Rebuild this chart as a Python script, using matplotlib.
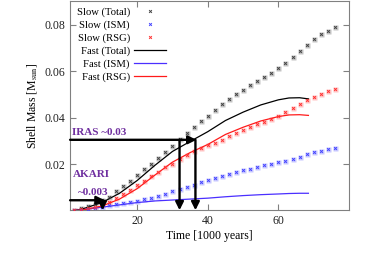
import numpy as np
import matplotlib
matplotlib.use("Agg")
import matplotlib.pyplot as plt

plt.rcParams['font.family'] = ['Liberation Serif', 'DejaVu Serif']
plt.rcParams['mathtext.fontset'] = 'stix'

# slow wind model, every 2 kyr
t_slow = np.arange(2, 78, 2)
slow_total = [0.0005, 0.0010, 0.0020, 0.0030, 0.0045, 0.0061, 0.0086, 0.0108, 0.0129, 0.0153,
              0.0178, 0.0203, 0.0227, 0.0252, 0.0277, 0.0308, 0.0333, 0.0359, 0.0384, 0.0409,
              0.0433, 0.0458, 0.0482, 0.0502, 0.0519, 0.0540, 0.0557, 0.0576, 0.0593, 0.0613,
              0.0634, 0.0661, 0.0688, 0.0714, 0.0737, 0.0759, 0.0774, 0.0790]
slow_ism = [0.0002, 0.0005, 0.0009, 0.0013, 0.0018, 0.0024, 0.0028, 0.0033, 0.0037, 0.0042,
            0.0050, 0.0055, 0.0062, 0.0072, 0.0084, 0.0092, 0.0101, 0.0111, 0.0122, 0.0130,
            0.0140, 0.0150, 0.0160, 0.0168, 0.0174, 0.0180, 0.0187, 0.0197, 0.0203, 0.0208,
            0.0214, 0.0223, 0.0233, 0.0243, 0.0251, 0.0259, 0.0265, 0.0270]
slow_rsg = [0.0003, 0.0006, 0.0011, 0.0018, 0.0028, 0.0038, 0.0055, 0.0073, 0.0091, 0.0110,
            0.0129, 0.0149, 0.0168, 0.0186, 0.0203, 0.0222, 0.0240, 0.0256, 0.0270, 0.0281,
            0.0292, 0.0305, 0.0322, 0.0336, 0.0348, 0.0361, 0.0372, 0.0383, 0.0394, 0.0408,
            0.0425, 0.0441, 0.0458, 0.0475, 0.0490, 0.0503, 0.0513, 0.0522]

# fast wind model
t_fast = [2, 5, 10, 15, 20, 25, 30, 35, 40, 45, 50, 55, 60, 63, 66, 68.5]
fast_total = [0.0, 0.0010, 0.0035, 0.0075, 0.0130, 0.0195, 0.0255, 0.0298, 0.0340, 0.0388,
              0.0424, 0.0455, 0.0477, 0.0485, 0.0486, 0.0481]
fast_ism = [0.0, 0.0005, 0.0015, 0.0025, 0.0035, 0.0042, 0.0046, 0.0050, 0.0054, 0.0060,
            0.0065, 0.0069, 0.0072, 0.0074, 0.0075, 0.0075]
fast_rsg = [0.0, 0.0005, 0.0020, 0.0050, 0.0095, 0.0153, 0.0209, 0.0250, 0.0285, 0.0328,
            0.0359, 0.0386, 0.0405, 0.0412, 0.0413, 0.0410]

purple = '#7030A0'

fig = plt.figure(figsize=(3.67, 2.58), dpi=100)
ax = fig.add_axes([0.191, 0.186, 0.76, 0.81])

for y, dark, light, lab in [(slow_total, '#444444', '#c4c4c4', 'Slow (Total)'),
                            (slow_ism, '#4444ff', '#c8c8ff', 'Slow (ISM)'),
                            (slow_rsg, '#ff3333', '#ffc4c4', 'Slow (RSG)')]:
    ax.plot(t_slow, y, ls='none', marker='s', ms=3.6, mfc=light, mec='none', zorder=2)
    ax.plot(t_slow, y, ls='none', marker='x', ms=2, mew=0.7, color=dark, label=lab, zorder=3)

ax.plot(t_fast, fast_total, color='black', lw=0.9, label='Fast (Total)')
ax.plot(t_fast, fast_ism, color='#4a2fff', lw=0.9, label='Fast (ISM)')
ax.plot(t_fast, fast_rsg, color='#ff1a1a', lw=0.9, label='Fast (RSG)')

arr = dict(arrowstyle='-|>', lw=1.7, color='black', mutation_scale=12, shrinkA=0, shrinkB=0)
# IRAS
ax.annotate('', xy=(36.8, 0.0305), xytext=(1, 0.0305), arrowprops=arr)
ax.annotate('', xy=(32, 0.0002), xytext=(32, 0.0305), arrowprops=arr)
ax.annotate('', xy=(36.5, 0.0002), xytext=(36.5, 0.0305), arrowprops=arr)
# AKARI
ax.annotate('', xy=(10.8, 0.0045), xytext=(1, 0.0045), arrowprops=arr)
ax.annotate('', xy=(10.2, 0.0002), xytext=(10.2, 0.0045), arrowprops=arr)

ax.text(1.5, 0.0318, 'IRAS ~0.03', color=purple, fontsize=8, fontweight='bold', va='bottom')
ax.text(1.8, 0.0155, 'AKARI', color=purple, fontsize=8, fontweight='bold', va='center')
ax.text(3.2, 0.0080, '~0.003', color=purple, fontsize=8, fontweight='bold', va='center')

ax.set_xlim(1, 80)
ax.set_ylim(0.0003, 0.0902)
ax.set_xticks([20, 40, 60])
ax.set_yticks([0.02, 0.04, 0.06, 0.08])
ax.tick_params(direction='in', top=True, right=True, length=4, labelsize=8.5,
               color='#808080', labelcolor='#222222')
for s in ax.spines.values():
    s.set_color('#808080')

ax.set_xlabel('Time [1000 years]', fontsize=8.5, labelpad=2)
ax.set_ylabel(r'Shell Mass [M$_{\rm sun}$]', fontsize=8.5, labelpad=4)

leg = ax.legend(loc='upper left', markerfirst=False, frameon=False, fontsize=7.7,
                handlelength=3.0, labelspacing=0.3, borderaxespad=0.2, handletextpad=0.4)

fig.savefig('out.png', dpi=100)
